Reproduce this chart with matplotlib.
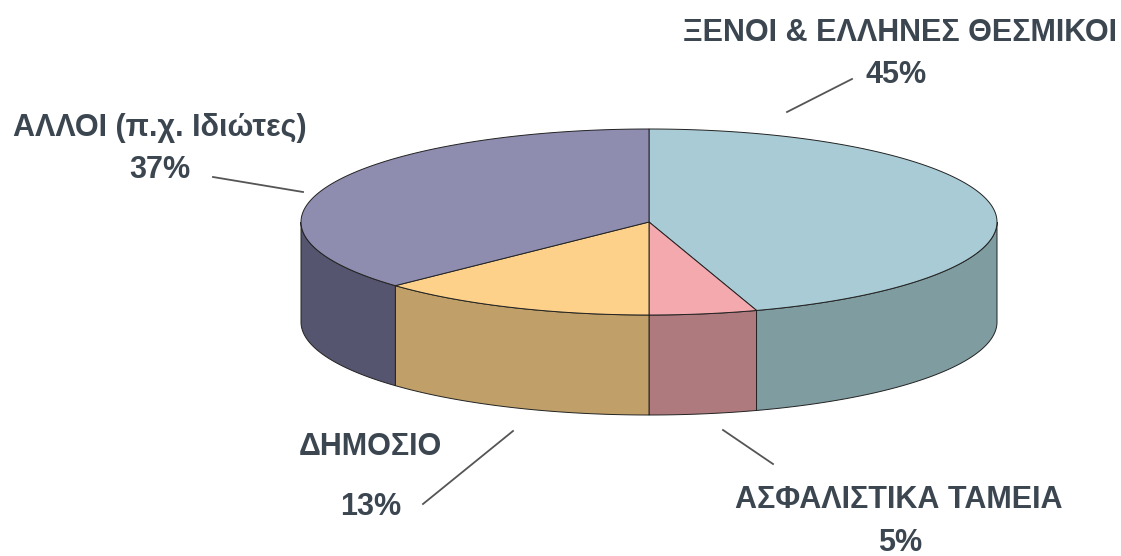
import numpy as np
import matplotlib
matplotlib.use("Agg")
import matplotlib.pyplot as plt
from matplotlib.patches import Polygon

# ---- data ----
categories = ["ΞΕΝΟΙ & ΕΛΛΗΝΕΣ ΘΕΣΜΙΚΟΙ", "ΑΣΦΑΛΙΣΤΙΚΑ ΤΑΜΕΙΑ", "ΔΗΜΟΣΙΟ", "ΑΛΛΟΙ (π.χ. Ιδιώτες)"]
values = [45, 5, 13, 37]
top_colors = ["#A9CBD5", "#F4A9AE", "#FED18A", "#8E8DB0"]
side_colors = ["#7F9CA0", "#AF7A7D", "#C0A068", "#56556F"]

# ---- layout ----
cx, cy = 649, 222
rx, ry = 348, 93
depth = 100
text_color = "#3B4650"

plt.rcParams['font.family'] = ['Liberation Sans', 'DejaVu Sans']

fig = plt.figure(figsize=(11.21, 5.56), dpi=100)
ax = fig.add_axes([0, 0, 1, 1])
ax.set_xlim(0, 1121)
ax.set_ylim(556, 0)
ax.axis("off")


def arc(a0, a1, dy=0.0, n=200):
    t = np.radians(np.linspace(a0, a1, n))
    return np.column_stack([cx + rx * np.cos(t), cy - ry * np.sin(t) + dy])


total = float(sum(values))
starts, ends = [], []
a = 90.0
for v in values:
    starts.append(a)
    a = a - 360.0 * v / total
    ends.append(a)

# side faces (only front half visible: angles in [-180, 0])
for s, e, col in zip(starts, ends, side_colors):
    hi = min(s, 0.0)
    lo = max(e, -180.0)
    if hi > lo:
        top = arc(hi, lo)
        bot = arc(lo, hi, dy=depth)
        ax.add_patch(Polygon(np.vstack([top, bot]), closed=True, facecolor=col,
                             edgecolor="#222222", linewidth=0.7, zorder=1))

# top faces
for s, e, col in zip(starts, ends, top_colors):
    pts = np.vstack([[cx, cy], arc(s, e)])
    ax.add_patch(Polygon(pts, closed=True, facecolor=col, edgecolor="#222222",
                         linewidth=0.7, zorder=2))

# labels
pct = [f"{v}%" for v in values]
label_pos = [(900, 33), (899, 500), (370, 447), (160, 128)]
pct_pos = [(896, 75), (900, 543), (371, 507), (160, 170)]
leaders = [((787, 112), (852, 79)), ((723, 430), (773, 464)),
           ((513, 431), (423, 504)), ((213, 177), (303, 192))]

for name, p, lp, pp, (l0, l1) in zip(categories, pct, label_pos, pct_pos, leaders):
    ax.text(lp[0], lp[1], name, ha="center", va="center", fontsize=22,
            fontweight="bold", color=text_color)
    ax.text(pp[0], pp[1], p, ha="center", va="center", fontsize=22,
            fontweight="bold", color=text_color)
    ax.plot([l0[0], l1[0]], [l0[1], l1[1]], color="#555555", linewidth=1.3)

fig.savefig("out.png", dpi=100)
